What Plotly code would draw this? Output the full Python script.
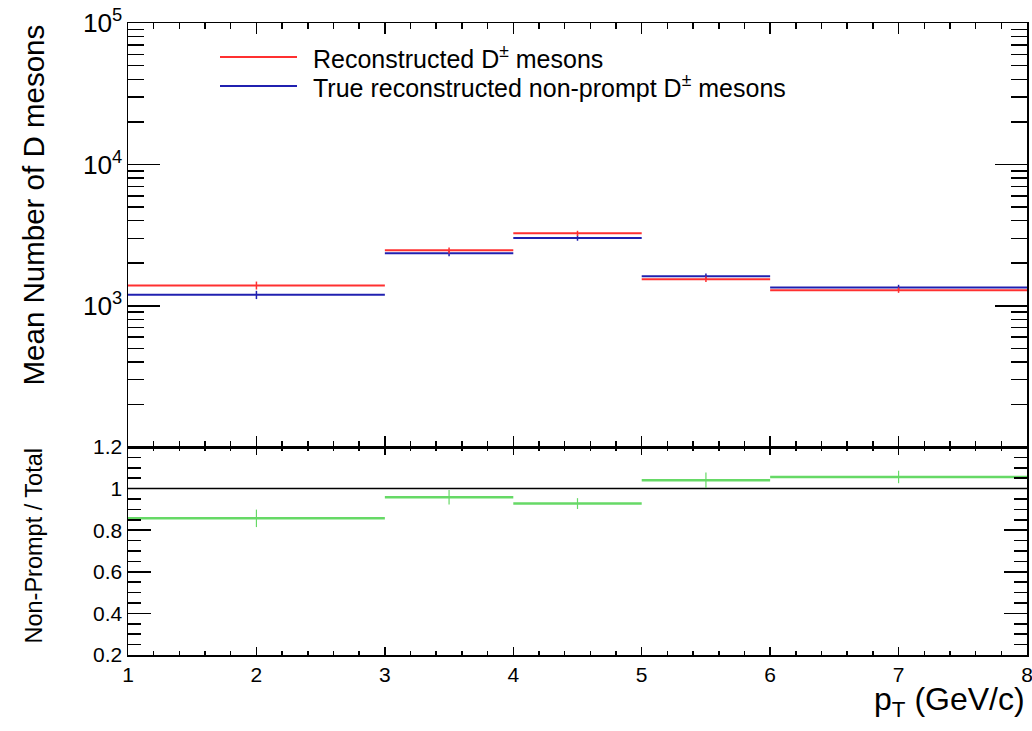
import plotly.graph_objects as go
from plotly.subplots import make_subplots

# ---- data ----
bin_edges = [1, 3, 4, 5, 6, 8]
bin_centers = [2.0, 3.5, 4.5, 5.5, 7.0]
bin_halfwidths = [1.0, 0.5, 0.5, 0.5, 1.0]

reco_total = [1393, 2466, 3251, 1541, 1290]
reco_total_err = [90, 120, 140, 67, 56]
reco_nonprompt = [1195, 2350, 3013, 1618, 1349]
reco_nonprompt_err = [80, 110, 130, 70, 58]

ratio = [0.857, 0.958, 0.928, 1.040, 1.056]
ratio_err = [0.042, 0.035, 0.026, 0.037, 0.030]
ratio_reference = 1.0

legend_labels = ["Reconstructed D<sup>±</sup> mesons",
                 "True reconstructed non-prompt D<sup>±</sup> mesons"]
x_title = "p<sub>T</sub> (GeV/c)"
y_title_top = "Mean Number of D mesons"
y_title_bottom = "Non-Prompt / Total"

RED = "#ff3030"
BLUE = "#2020b0"
GREEN = "#66d966"
FONT = "Liberation Sans, Arial, sans-serif"

W, H = 1032, 731
ML, MR, MT, MB = 128, 5, 23, 76
plot_h = H - MT - MB
plot_w = W - ML - MR
split = 208 / plot_h

fig = make_subplots(rows=2, cols=1, shared_xaxes=False, vertical_spacing=0)

def hist_trace(y, yerr, color, xa, ya, thick=2, ethick=1.5):
    return go.Scatter(
        x=bin_centers, y=y, mode="markers",
        marker=dict(size=0.1, color=color, opacity=0),
        error_x=dict(type="data", array=bin_halfwidths, symmetric=True,
                     color=color, thickness=thick, width=0),
        error_y=dict(type="data", array=yerr, symmetric=True,
                     color=color, thickness=ethick, width=0),
        xaxis=xa, yaxis=ya, showlegend=False, hoverinfo="skip")

fig.add_trace(hist_trace(reco_nonprompt, reco_nonprompt_err, BLUE, "x", "y"))
fig.add_trace(hist_trace(reco_total, reco_total_err, RED, "x", "y"))
fig.add_trace(hist_trace(ratio, ratio_err, GREEN, "x2", "y2", thick=2.5, ethick=1.2))

fig.add_shape(type="line", xref="x2 domain", yref="y2", x0=0, x1=1,
              y0=ratio_reference, y1=ratio_reference,
              line=dict(color="black", width=1.5), layer="below")

# legend (manual)
leg_y = [(H - MB - 57) / plot_h, (H - MB - 86) / plot_h]
for lab, col, yy in zip(legend_labels, [RED, BLUE], leg_y):
    fig.add_shape(type="line", xref="paper", yref="paper",
                  x0=(220 - ML) / plot_w, x1=(297 - ML) / plot_w,
                  y0=yy, y1=yy, line=dict(color=col, width=2))
    fig.add_annotation(xref="paper", yref="paper",
                       x=(311 - ML) / plot_w, y=yy, xanchor="left",
                       yanchor="middle", text=lab, showarrow=False,
                       font=dict(family=FONT, size=25, color="black"))

# axis titles
fig.add_annotation(xref="paper", yref="paper", x=(33 - ML) / plot_w, y=1.0,
                   xanchor="center", yanchor="top", textangle=-90, text=y_title_top,
                   showarrow=False, font=dict(family=FONT, size=29.5, color="black"))
fig.add_annotation(xref="paper", yref="paper", x=(33 - ML) / plot_w, y=split,
                   xanchor="center", yanchor="top", textangle=-90, text=y_title_bottom,
                   showarrow=False, font=dict(family=FONT, size=23.5, color="black"))
fig.add_annotation(xref="paper", yref="paper", x=1.0, y=-46 / plot_h,
                   xanchor="right", yanchor="middle", text=x_title,
                   showarrow=False, font=dict(family=FONT, size=32, color="black"))

common = dict(showline=True, linecolor="black", linewidth=1.5, mirror="ticks",
              ticks="inside", tickcolor="black", tickwidth=1.5, showgrid=False,
              zeroline=False, automargin=False, ticklabeloverflow="allow",
              tickfont=dict(family=FONT, size=21, color="black"))

fig.update_layout(
    width=W, height=H, margin=dict(l=ML, r=MR, t=MT, b=MB, autoexpand=False),
    paper_bgcolor="white", plot_bgcolor="white", showlegend=False,
    xaxis=dict(common, range=[1, 8], domain=[0, 1], anchor="y", dtick=1, tick0=1,
               ticklen=11, showticklabels=False,
               minor=dict(ticks="inside", ticklen=6, dtick=0.2, tick0=1,
                          tickcolor="black", tickwidth=1.5)),
    yaxis=dict(common, type="log", range=[2.001, 5.0], domain=[split, 1], anchor="x",
               dtick=1, exponentformat="power", showexponent="all", ticklen=32,
               minor=dict(ticks="inside", ticklen=16, dtick="D1",
                          tickcolor="black", tickwidth=1.5)),
    xaxis2=dict(common, range=[1, 8], domain=[0, 1], anchor="y2", dtick=1, tick0=1,
                ticklen=8, minor=dict(ticks="inside", ticklen=4, dtick=0.2, tick0=1,
                                      tickcolor="black", tickwidth=1.5)),
    yaxis2=dict(common, range=[0.2, 1.2], domain=[0, split], anchor="x2",
                dtick=0.2, tick0=0.2, ticklen=23,
                minor=dict(ticks="inside", ticklen=13, dtick=0.05, tick0=0.2,
                           tickcolor="black", tickwidth=1.5)),
)

fig.write_html(
    "out.html",
    config={"displayModeBar": False, "staticPlot": True},
    post_script="document.body.style.margin='0';document.body.style.overflow='hidden';",
)
